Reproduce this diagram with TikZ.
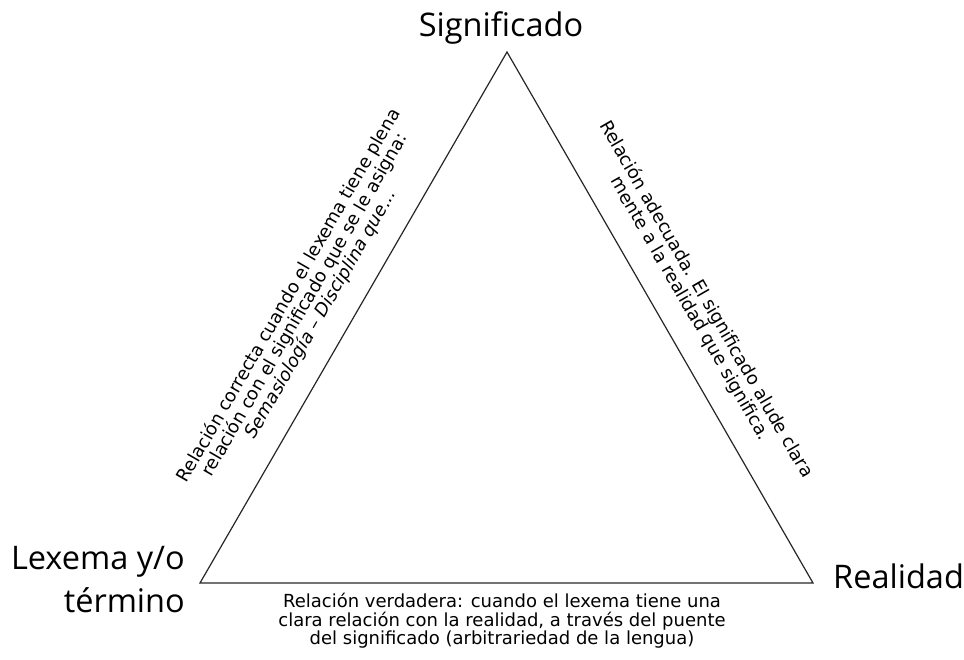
\documentclass[tikz,border=0pt]{standalone}
\usepackage{fontspec}
\setmainfont{DejaVu Sans}
\newfontfamily\labelfont{Open Sans}
\begin{document}
\begin{tikzpicture}[x=1pt,y=1pt,
  vertexlabel/.style={font=\labelfont\fontsize{32.5}{43}\selectfont, inner sep=0pt},
  sidenote/.style={font=\fontsize{18}{18.5}\selectfont, align=center, inner sep=0pt},
  edge/.style={draw=black!85, line width=1.2pt, line join=miter}]
  \useasboundingbox (0,0) rectangle (964,660);
  % vertices of the triangle
  \coordinate (top) at (507,608);
  \coordinate (left) at (200,77);
  \coordinate (right) at (813,77);
  \draw[edge] (left) -- (top) -- (right) -- cycle;
  % corner labels
  \node[vertexlabel, anchor=base] (sig) at (501,623) {Significado};
  \node[vertexlabel, align=right, anchor=base east] (lex) at (185,47) {Lexema y/o\\término};
  \node[vertexlabel, anchor=base west] (real) at (833,71) {Realidad};
  % notes along the sides
  \node[sidenote, rotate=60] (leftnote) at (305,355)
    {Relación correcta cuando el lexema tiene plena\\
     relación con el significado que se le asigna:\\
     \textit{Semasiología – Disciplina que...}};
  \node[sidenote, rotate=-60] (rightnote) at (698,356)
    {Relación adecuada. El significado alude clara\\
     mente a la realidad que significa.};
  \node[sidenote, anchor=north] (bottomnote) at (502,67)
    {Relación verdadera: cuando el lexema tiene una\\
     clara relación con la realidad, a través del puente\\
     del significado (arbitrariedad de la lengua)};
\end{tikzpicture}
\end{document}
